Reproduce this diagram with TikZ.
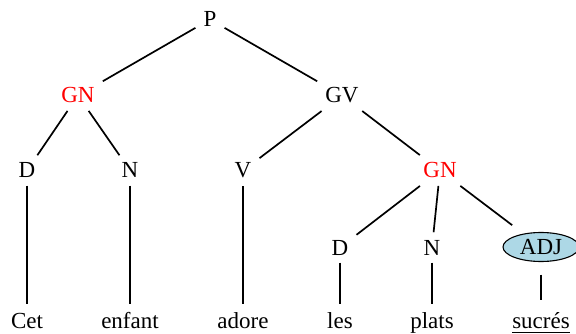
\documentclass[tikz,border=0pt]{standalone}
\usepackage{fontspec}
\setmainfont{Liberation Serif}
\usetikzlibrary{shapes.geometric}
\definecolor{adjblue}{RGB}{173,216,230}
\begin{document}
\begin{tikzpicture}[x=1pt,y=-1pt,
  every node/.style={font=\fontsize{23pt}{27pt}\selectfont},
  cat/.style={anchor=base, inner xsep=8pt, inner ysep=7.5pt},
  redcat/.style={cat, text=red},
  word/.style={anchor=base, inner xsep=0pt, inner ysep=8pt, text height=16pt, text depth=5pt},
  adjnode/.style={ellipse, draw=black, line width=1.1pt, fill=adjblue, minimum width=76pt, minimum height=29pt, inner sep=0pt},
  branch/.style={line width=1.7pt}]
\useasboundingbox (0,0) rectangle (576,334);
% categories
\node[cat] (P) at (210,27) {P};
\node[redcat] (GN1) at (78,103) {GN};
\node[cat] (GV) at (342,103) {GV};
\node[cat] (D1) at (27,178) {D};
\node[cat] (N1) at (130,178) {N};
\node[cat] (V) at (243,178) {V};
\node[redcat] (GN2) at (440,178) {GN};
\node[cat] (D2) at (340,255) {D};
\node[cat] (N2) at (432,255) {N};
\node[adjnode] (ADJ) at (541,247) {ADJ};
% words
\node[word] (w1) at (27,328.5) {Cet};
\node[word] (w2) at (130,328.5) {enfant};
\node[word] (w3) at (243,328.5) {adore};
\node[word] (w4) at (340,328.5) {les};
\node[word] (w5) at (432,328.5) {plats};
\node[word] (w6) at (541,328.5) {sucrés};
% branches
\draw[branch] (P) -- (GN1);
\draw[branch] (P) -- (GV);
\draw[branch] (GN1) -- (D1);
\draw[branch] (GN1) -- (N1);
\draw[branch] (GV) -- (V);
\draw[branch] (GV) -- (GN2);
\draw[branch] (GN2) -- (D2);
\draw[branch] (GN2) -- (N2);
\draw[branch, shorten >=14pt] (GN2) -- (ADJ);
\draw[branch] (D1) -- (w1);
\draw[branch] (N1) -- (w2);
\draw[branch] (V) -- (w3);
\draw[branch] (D2) -- (w4);
\draw[branch] (N2) -- (w5);
\draw[branch, shorten <=12.5pt, shorten >=4.5pt] (ADJ) -- (w6);
% underline
\draw[line width=1.3pt] ([yshift=-4pt]w6.base west) -- ([yshift=-4pt]w6.base east);
\end{tikzpicture}
\end{document}
